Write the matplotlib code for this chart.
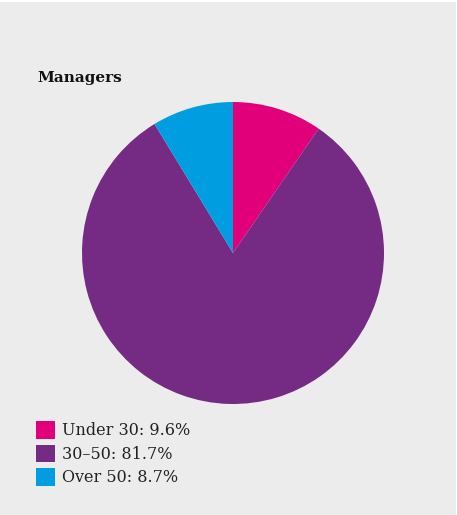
import matplotlib.pyplot as plt
import matplotlib.patches as mpatches

labels = ['Under 30', '30\u201350', 'Over 50']
shares = [9.6, 81.7, 8.7]
colors = ['#e2007a', '#752b84', '#009ee0']

W, H = 457, 515
fig = plt.figure(figsize=(W / 100, H / 100), dpi=100)
fig.patch.set_facecolor('white')
fig.patches.append(mpatches.Rectangle((0, 0), 456 / W, 513 / H, transform=fig.transFigure,
                                      facecolor='#ebeceb', edgecolor='none', zorder=-5))

# pie centre (233, 253) px, radius 151 px
ax = fig.add_axes([82 / W, (H - 404) / H, 302 / W, 302 / H])
ax.set_zorder(2)
wedges, _ = ax.pie(shares, colors=colors, startangle=90, counterclock=False,
                   wedgeprops=dict(edgecolor='none', linewidth=0))
ax.set_xlim(-1, 1)
ax.set_ylim(-1, 1)
ax.set_aspect('equal')
ax.axis('off')

fig.text(37 / W, 1 - 82 / H, 'Managers', fontsize=11, fontweight='bold',
         family='DejaVu Serif', color='#111111', ha='left', va='baseline')

leg_labels = [f'{l}: {s}%' for l, s in zip(labels, shares)]
fig.legend(wedges, leg_labels, loc='upper left', bbox_to_anchor=(36 / W, 1 - 421 / H),
           frameon=False, handlelength=1.2, handleheight=1.35, handletextpad=0.45,
           labelspacing=0.33, borderaxespad=0, borderpad=0,
           prop={'family': 'DejaVu Serif', 'size': 11.5}, labelcolor='#222222')

fig.savefig('out.png', dpi=100, facecolor=fig.get_facecolor())
